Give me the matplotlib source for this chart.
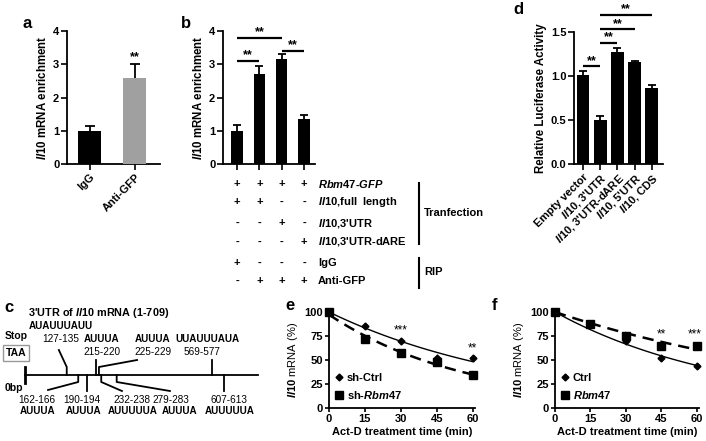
import numpy as np
import matplotlib
matplotlib.use("Agg")
import matplotlib.pyplot as plt
from matplotlib.lines import Line2D
from matplotlib.transforms import blended_transform_factory

plt.rcParams["font.family"] = ["Liberation Sans", "DejaVu Sans"]
plt.rcParams["mathtext.fontset"] = "custom"
plt.rcParams["mathtext.it"] = "Liberation Sans:italic:bold"
plt.rcParams["mathtext.rm"] = "Liberation Sans:bold"
plt.rcParams["mathtext.bf"] = "Liberation Sans:bold"

# ---- data ----
a_labels = ["IgG", "Anti-GFP"]
a_means = [1.0, 2.6]
a_errs = [0.15, 0.42]
a_colors = ["black", "#a0a0a0"]

b_means = [1.0, 2.72, 3.15, 1.35]
b_errs = [0.17, 0.23, 0.17, 0.13]
b_sig = [(0, 1, 3.1), (0, 2, 3.8), (2, 3, 3.4)]
b_row_labels = [r"$\mathit{Rbm47}$-$\mathit{GFP}$", r"$\mathit{Il10}$,full  length",
                r"$\mathit{Il10}$,3'UTR", r"$\mathit{Il10}$,3'UTR-dARE", "IgG", "Anti-GFP"]
b_row_signs = [["+", "+", "+", "+"], ["+", "+", "-", "-"], ["-", "-", "+", "-"],
               ["-", "-", "-", "+"], ["+", "-", "-", "-"], ["-", "+", "+", "+"]]

d_labels = ["Empty vector", r"$\mathit{Il10}$, 3'UTR", r"$\mathit{Il10}$, 3'UTR-dARE",
            r"$\mathit{Il10}$, 5'UTR", r"$\mathit{Il10}$, CDS"]
d_means = [1.01, 0.50, 1.27, 1.16, 0.86]
d_errs = [0.05, 0.04, 0.05, 0.01, 0.04]
d_sig = [(0, 1, 1.11), (1, 2, 1.375), (1, 3, 1.53), (1, 4, 1.69)]

c_upper = [(127, "127-135", "AUAUUUAUU"), (215, "215-220", "AUUUA"),
           (225, "225-229", "AUUUA"), (569, "569-577", "UUAUUUAUA")]
c_lower = [(162, "162-166", "AUUUA"), (190, "190-194", "AUUUA"), (232, "232-238", "AUUUUUA"),
           (279, "279-283", "AUUUA"), (607, "607-613", "AUUUUUA")]
c_length = 709

time = [0, 15, 30, 45, 60]
e_ctrl = [100, 85, 70, 52, 52]
e_rbm = [100, 72, 57, 48, 34]
f_ctrl = [100, 87, 70, 52, 44]
f_rbm = [100, 88, 75, 65, 65]

W, H = 706, 441
fig = plt.figure(figsize=(W / 100, H / 100), dpi=100)


def ax_px(x0, y0, x1, y1):
    return fig.add_axes([x0 / W, 1 - y1 / H, (x1 - x0) / W, (y1 - y0) / H])


def fx(px):
    return px / W


def fy(py):
    return 1 - py / H


def style(ax, size=8):
    for s in ["top", "right"]:
        ax.spines[s].set_visible(False)
    for s in ["left", "bottom"]:
        ax.spines[s].set_linewidth(1.3)
    ax.tick_params(width=1.2, length=4, labelsize=size, direction="out", pad=1.5)
    for lbl in ax.get_xticklabels() + ax.get_yticklabels():
        lbl.set_fontweight("bold")


def sig_lines(ax, sig, dy, fs=9):
    for i, j, y in sig:
        ax.plot([i, j], [y, y], color="k", lw=1.6, clip_on=False, solid_capstyle="butt")
        ax.text((i + j) / 2, y + dy, "**", ha="center", va="baseline", fontsize=fs,
                fontweight="bold", clip_on=False)


def exp_fit(t, y, start=None):
    t = np.asarray(t, float)
    ly = np.log(np.asarray(y, float))
    if start is not None:
        k = np.sum(t * (ly - np.log(start))) / np.sum(t * t)
        return lambda x: start * np.exp(k * x)
    b, a = np.polyfit(t, ly, 1)
    return lambda x: np.exp(a + b * x)


# ---- panel a ----
ax = ax_px(67, 31, 160, 164)
xa = np.arange(len(a_means))
ax.errorbar(xa, a_means, yerr=a_errs, fmt="none", ecolor="k", elinewidth=1.3,
            capsize=3.5, capthick=1.3, zorder=2)
ax.bar(xa, a_means, width=0.51, color=a_colors, zorder=3)
ax.set_xlim(-0.51, 1.56)
ax.set_ylim(0, 4)
ax.set_yticks([0, 1, 2, 3, 4])
ax.set_xticks(xa)
ax.set_xticklabels(a_labels, rotation=45, ha="right", rotation_mode="anchor")
ax.set_ylabel(r"$\mathit{Il10}$ mRNA enrichment", fontsize=8.3, fontweight="bold", labelpad=3)
style(ax)
ax.text(1, 3.13, "**", ha="center", va="baseline", fontsize=9, fontweight="bold")
fig.text(fx(27), fy(24), "a", fontsize=12, fontweight="bold", ha="center", va="center")

# ---- panel b ----
ax = ax_px(223, 31, 315, 164)
xb = np.arange(len(b_means))
ax.errorbar(xb, b_means, yerr=b_errs, fmt="none", ecolor="k", elinewidth=1.3,
            capsize=3, capthick=1.3, zorder=2)
ax.bar(xb, b_means, width=0.5, color="black", zorder=3)
ax.set_xlim(-0.63, 3.49)
ax.set_ylim(0, 4)
ax.set_yticks([0, 1, 2, 3, 4])
ax.set_xticks(xb)
ax.set_xticklabels([])
ax.set_ylabel(r"$\mathit{Il10}$ mRNA enrichment", fontsize=8.3, fontweight="bold", labelpad=3)
style(ax)
sig_lines(ax, b_sig, 0.08)
fig.text(fx(186), fy(24), "b", fontsize=12, fontweight="bold", ha="center", va="center")

tr = blended_transform_factory(ax.transData, fig.transFigure)
row_y = [184, 202, 223, 242, 263, 281]
for ry, signs, lab in zip(row_y, b_row_signs, b_row_labels):
    for i, s in enumerate(signs):
        ax.text(i, fy(ry), s, transform=tr, ha="center", va="center", fontsize=8,
                fontweight="bold", clip_on=False)
    fig.text(fx(318), fy(ry), lab, ha="left", va="center", fontsize=8, fontweight="bold")
fig.add_artist(Line2D([fx(419), fx(419)], [fy(183), fy(244)], color="k", lw=1.5))
fig.add_artist(Line2D([fx(419), fx(419)], [fy(258), fy(288)], color="k", lw=1.5))
fig.text(fx(424), fy(213), "Tranfection", ha="left", va="center", fontsize=8, fontweight="bold")
fig.text(fx(424), fy(272), "RIP", ha="left", va="center", fontsize=8, fontweight="bold")

# ---- panel d ----
ax = ax_px(574, 32, 663, 164)
xd = np.arange(len(d_means))
ax.errorbar(xd, d_means, yerr=d_errs, fmt="none", ecolor="k", elinewidth=1.3,
            capsize=3, capthick=1.3, zorder=2)
ax.bar(xd, d_means, width=0.75, color="black", zorder=3)
ax.set_xlim(-0.52, 4.64)
ax.set_ylim(0, 1.5)
ax.set_yticks([0, 0.5, 1.0, 1.5])
ax.set_yticklabels(["0.0", "0.5", "1.0", "1.5"])
ax.set_xticks(xd)
ax.set_xticklabels(d_labels, rotation=45, ha="right", rotation_mode="anchor", fontsize=7.5)
ax.set_ylabel("Relative Luciferase Activity", fontsize=8.3, fontweight="bold", labelpad=3)
style(ax)
sig_lines(ax, d_sig, 0.03)
fig.text(fx(518), fy(9), "d", fontsize=12, fontweight="bold", ha="center", va="center")

# ---- panel c ----
ax = ax_px(25, 300, 258, 441)
ax.set_xlim(0, c_length)
ax.set_ylim(441, 300)
ax.axis("off")
kw = dict(color="k", lw=1.3, clip_on=False)
ax.plot([0, c_length], [375, 375], **kw)
ax.plot([0, 0], [367, 383], color="k", lw=2, clip_on=False)
# leader end, number label (x, y), sequence label (x, y) -- layout only
up_geom = {127: ((103, 350), 109, 339, 109, 326), 215: (None, 234, 352, 234, 339),
           225: ((341, 360), 390, 352, 388, 339), 569: (None, 540, 352, 556, 339)}
for pos, num, seq in c_upper:
    end, nx, ny, sx, sy = up_geom[pos]
    if end is None:
        ax.plot([pos, pos], [375, 360], **kw)
    else:
        ax.plot([pos, pos, end[0]], [375, 367, end[1]], **kw)
    ax.text(nx, ny, num, ha="center", va="center", fontsize=7.2)
    ax.text(sx, sy, seq, ha="center", va="center", fontsize=7.1, fontweight="bold")
low_geom = {162: ((70, 390), 37, 37), 190: (None, 173, 177), 232: ((295, 391), 324, 329),
            279: ((441, 391), 443, 469), 607: (None, 621, 624)}
for pos, num, seq in c_lower:
    end, nx, sx = low_geom[pos]
    if end is None:
        ax.plot([pos, pos], [375, 391], **kw)
    else:
        ax.plot([pos, pos, end[0]], [375, 382, end[1]], **kw)
    ax.text(nx, 400, num, ha="center", va="center", fontsize=7.2)
    ax.text(sx, 411, seq, ha="center", va="center", fontsize=7.1, fontweight="bold")
fig.text(fx(28), fy(313), r"3'UTR of $\mathit{Il10}$ mRNA (1-709)", ha="left", va="center",
         fontsize=7.8, fontweight="bold")
fig.text(fx(5), fy(336), "Stop", ha="left", va="center", fontsize=7.5, fontweight="bold")
fig.text(fx(6), fy(353), "TAA", ha="left", va="center", fontsize=7.5, fontweight="bold",
         bbox=dict(boxstyle="square,pad=0.25", fc="white", ec="#999999", lw=1))
fig.text(fx(5), fy(388), "0bp", ha="left", va="center", fontsize=7.5, fontweight="bold")
fig.text(fx(4), fy(307), "c", fontsize=12, fontweight="bold", ha="left", va="center")

# ---- panels e, f ----
t_fine = np.linspace(0, 60, 120)
panels = [
    ((329, 312, 475, 408), e_ctrl, e_rbm, "sh-Ctrl", r"sh-$\mathit{Rbm47}$", (100, None),
     [(30, 75, "***"), (60, 56, "**")], "e", (290, 306)),
    ((555, 312, 699, 408), f_ctrl, f_rbm, "Ctrl", r"$\mathit{Rbm47}$", (100, 100),
     [(45, 70, "**"), (59, 70, "***")], "f", (495, 305)),
]
for box, ctrl, rbm, l1, l2, starts, stars, letter, lpos in panels:
    ax = ax_px(*box)
    ax.plot(t_fine, exp_fit(time, ctrl, starts[0])(t_fine), color="k", lw=1.0)
    ax.plot(t_fine, exp_fit(time, rbm, starts[1])(t_fine), color="k", lw=1.8,
            dashes=(4.5, 2.8))
    h1, = ax.plot(time, ctrl, "D", color="k", ms=3.5, ls="none", clip_on=False, label=l1)
    h2, = ax.plot(time, rbm, "s", color="k", ms=5.5, ls="none", clip_on=False, label=l2)
    for sx, sy, s in stars:
        ax.text(sx, sy, s, ha="center", va="bottom", fontsize=8.5)
    ax.set_xlim(0, 61)
    ax.set_ylim(0, 100)
    ax.set_xticks(time)
    ax.set_yticks([0, 25, 50, 75, 100])
    ax.set_xlabel("Act-D treatment time (min)", fontsize=8, fontweight="bold", labelpad=2)
    ax.set_ylabel(r"$\mathit{Il10}$ mRNA (%)", fontsize=8, labelpad=3)
    style(ax)
    ax.tick_params(length=3)
    ax.legend(handles=[h1, h2], loc="lower left", bbox_to_anchor=(-0.03, -0.03),
              frameon=False, handlelength=0.8, handletextpad=0.3, labelspacing=0.55,
              prop=dict(weight="bold", size=8))
    fig.text(fx(lpos[0]), fy(lpos[1]), letter, fontsize=12, fontweight="bold",
             ha="center", va="center")

fig.savefig("out.png", dpi=100)
